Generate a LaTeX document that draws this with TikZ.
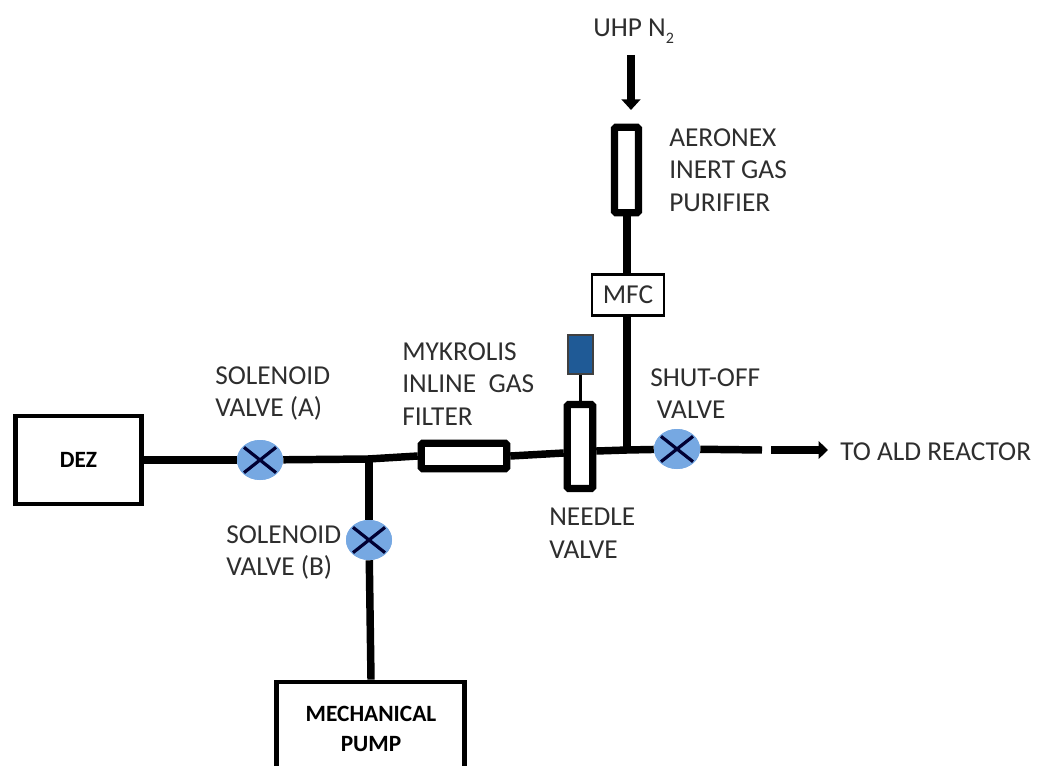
\documentclass[tikz,border=0pt]{standalone}
\usepackage{fontspec}
\setmainfont{Carlito}
\usetikzlibrary{shapes.geometric,arrows.meta,calc}
\definecolor{valveblue}{HTML}{76A8E2}
\definecolor{solblue}{HTML}{1F5A96}
\definecolor{txt}{HTML}{2E2E2E}
\tikzset{
  pipe/.style={draw=black,line width=5.6pt},
  flow/.style={draw=black,line width=5.6pt},
  bigbox/.style={draw=black,line width=3.6pt,fill=white,inner sep=0pt,align=center,font=\fontsize{17.5}{20}\selectfont\bfseries},
  tube/.style={draw=black,line width=5.4pt,fill=white,inner sep=0pt,rounded corners=1pt},
  valve/.style={ellipse,fill=valveblue,draw=none,minimum width=34.5pt,minimum height=30pt,inner sep=0pt,
    path picture={\draw[line width=2.4pt,draw=black!80!blue]
      ($(path picture bounding box.center)+(-12pt,9.5pt)$)--($(path picture bounding box.center)+(12pt,-9.5pt)$)
      ($(path picture bounding box.center)+(-12pt,-9.5pt)$)--($(path picture bounding box.center)+(12pt,9.5pt)$);}},
  lab/.style={text=txt,align=left,anchor=north west,inner sep=0pt,font=\fontsize{20.5}{24.7}\selectfont},
}
\begin{document}
\begin{tikzpicture}[x=0.75pt,y=-0.75pt]
\useasboundingbox (0,0) rectangle (1037,766);
\clip (0,0) rectangle (1037,766);
% junctions and free ends
\coordinate (jA) at (368,459);
\coordinate (jB) at (627,450);
\coordinate (topS) at (631,55);
\coordinate (topE) at (631,110);
\coordinate (dashE) at (762,450);
\coordinate (arrS) at (771,450);
\coordinate (arrE) at (828,450);
% nodes
\node[bigbox,minimum width=95pt,minimum height=66pt] (dez) at (78.5,460) {\raisebox{-3pt}{DEZ}};
\node[draw=black,line width=3.6pt,fill=white,minimum width=141pt,minimum height=120pt,inner sep=0pt] (pump) at (370.5,762) {};
\node[align=center,inner sep=0pt,font=\fontsize{17.5}{23}\selectfont\bfseries] (pumpt) at (371,729) {MECHANICAL\\PUMP};
\node[valve] (va) at (260,460) {};
\node[valve] (vb) at (369,540) {};
\node[valve] (vs) at (677,449) {};
\node[tube,minimum width=64pt,minimum height=19pt] (filter) at (464,456) {};
\node[tube,minimum width=18pt,minimum height=64pt] (purif) at (626.5,170) {};
\node[tube,minimum width=19pt,minimum height=63pt] (needle) at (580,446.5) {};
\node[draw=black,line width=1.9pt,fill=white,minimum width=54pt,minimum height=31pt,inner sep=0pt,font=\fontsize{20.5}{22}\selectfont,text=txt] (mfc) at (628,295) {MFC};
\node[draw=black!75,line width=1.5pt,fill=solblue,minimum width=19pt,minimum height=29.5pt,inner sep=0pt] (sol) at (580.5,354.5) {};
% connectors
\draw[pipe] (dez.east |- va) -- (va);
\draw[pipe] (va) -- (jA);
\draw[pipe] (jA) -- (filter.west);
\draw[pipe] (filter.east) -- (needle.west |- 0,453);
\draw[pipe] (needle.east |- 0,451) -- (jB);
\draw[pipe] (jB) -- (vs);
\draw[pipe] (vs) -- (dashE);
\draw[pipe] (369,457) -- (vb);
\draw[pipe] (vb) -- (pump.north -| 371,0);
\draw[pipe] (jB |- 0,453) -- (mfc.south -| jB);
\draw[pipe] (mfc.north -| jB) -- (purif.south -| jB);
\draw[draw=black,line width=2.4pt] (sol.south) -- (needle.north -| sol.south);
\draw[flow,-{Triangle[length=8pt,width=14pt]}] (topS) -- (topE);
\draw[flow,-{Triangle[length=7pt,width=13pt]}] (arrS) -- (arrE);
% valves sit over the pipes
\node[valve] at (va) {};
\node[valve] at (vb) {};
\node[valve] at (vs) {};
% labels
\node[lab,anchor=north west] (l1) at (593,19) {UHP N\raisebox{-5pt}{\fontsize{12}{12}\selectfont 2}};
\node[lab] (l2) at (669,128) {AERONEX\\INERT GAS\\PURIFIER};
\node[lab] (l3) at (402,342) {MYKROLIS\\INLINE\ \ GAS\\FILTER};
\node[lab] (l4) at (215,366) {SOLENOID\\VALVE (A)};
\node[lab] (l5) at (650,368) {SHUT-OFF\\\hspace*{5pt}VALVE};
\node[lab] (l6) at (840,442) {TO ALD REACTOR};
\node[lab] (l7) at (549,508) {NEEDLE\\VALVE};
\node[lab] (l8) at (226,525) {SOLENOID\\VALVE (B)};
\end{tikzpicture}
\end{document}
